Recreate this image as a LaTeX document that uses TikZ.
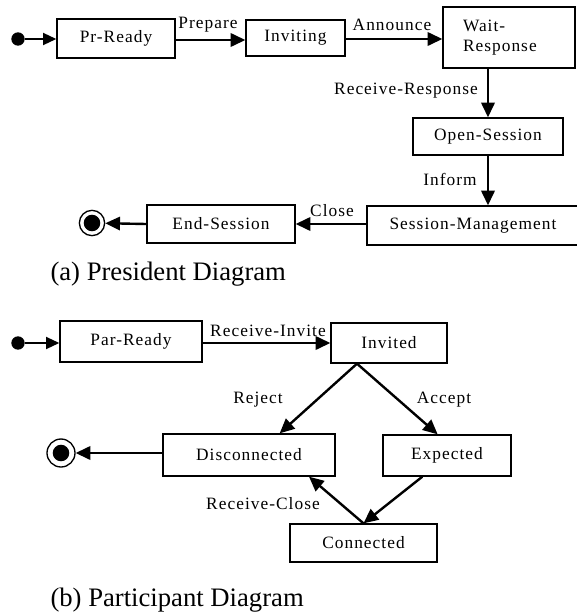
\documentclass[tikz,border=0pt]{standalone}
\usepackage{fontspec}
\setmainfont{Liberation Serif}
\newfontfamily\lblfont[LetterSpace=6]{Liberation Serif}
\usepackage{tikz}
\usetikzlibrary{arrows.meta,positioning,calc}
\tikzset{every picture/.style={line width=0.75pt}}

\begin{document}
\begin{tikzpicture}[x=0.75pt, y=-0.75pt,
    stbox/.style={draw, line width=1pt, rectangle, inner sep=0pt, font=\lblfont\fontsize{13}{15}\selectfont},
    trans/.style={line width=1.8pt, -{Triangle[length=11pt,width=10pt]}},
    lbl/.style={inner sep=0pt, font=\lblfont\fontsize{13}{15}\selectfont},
    initdot/.style={circle, fill, inner sep=0pt, minimum size=10pt},
    finalst/.style={circle, draw, line width=1pt, inner sep=0pt,
        path picture={\fill (path picture bounding box.center) circle (6.2pt);}},
    caption/.style={anchor=west, inner sep=0pt, font=\fontsize{20}{24}\selectfont}]
    \useasboundingbox (0,0) rectangle (577,614);

    % (a) 主持人
    \node[initdot] (init1) at (18,39) {};
    \node[stbox, minimum width=88.5pt, minimum height=29.25pt] (prready) at (116,38.5) {Pr-Ready};
    \node[stbox, minimum width=74.25pt, minimum height=27pt] (inviting) at (295.5,38) {Inviting};
    \node[stbox, minimum width=99pt, minimum height=45.75pt, text width=69pt, align=left] (waitresp) at (509,37.5) {Wait-\\Response};
    \node[stbox, minimum width=112.5pt, minimum height=27.75pt] (opensess) at (488,136.5) {Open-Session};
    \node[stbox, minimum width=159pt, minimum height=29.25pt] (sessmgmt) at (473,225.5) {Session-Management};
    \node[stbox, minimum width=111pt, minimum height=28.5pt] (endsess) at (221,224) {End-Session};
    \node[finalst, minimum size=19pt] (final1) at (92,223) {};

    \draw[line width=1.4pt, -{Triangle[length=10pt,width=9pt]}] (init1) -- (prready.west |- init1);
    \draw[trans] (prready.east |- 0,40) -- (inviting.west |- 0,40);
    \draw[trans] (inviting.east |- 0,39) -- (waitresp.west |- 0,39);
    \draw[trans] (opensess.north |- waitresp.south) -- (opensess.north);
    \draw[trans] (opensess.south) -- (opensess.south |- sessmgmt.north);
    \draw[trans] (sessmgmt.west |- endsess) -- (endsess.east);
    \draw[trans] (endsess.west) -- (final1);

    \node[lbl] (lprepare) at (208,25) {Prepare};
    \node[lbl] (lannounce) at (392,25) {Announce};
    \node[lbl] (lrecvresp) at (406,91) {Receive-Response};
    \node[lbl] (linform) at (450,179) {Inform};
    \node[lbl] (lclose) at (332,211) {Close};

    \node[caption] (capa) at (50,274) {(a) President Diagram};

    % (b) 参与者
    \node[initdot] (init2) at (18,343) {};
    \node[stbox, minimum width=106.5pt, minimum height=30.75pt] (parready) at (131,341.5) {Par-Ready};
    \node[stbox, minimum width=87pt, minimum height=30pt] (invited) at (389,343) {Invited};
    \node[stbox, minimum width=129pt, minimum height=31.5pt] (disconn) at (249,455) {Disconnected};
    \node[stbox, minimum width=96pt, minimum height=30.75pt] (expected) at (447,455.5) {Expected};
    \node[stbox, minimum width=110.25pt, minimum height=28.5pt] (connected) at (363.5,543) {Connected};
    \node[finalst, minimum size=21pt] (final2) at (61,453) {};

    \draw[line width=1.4pt, -{Triangle[length=10pt,width=9pt]}] (init2) -- (parready.west |- init2);
    \draw[trans] (parready.east |- invited) -- (invited.west);
    \draw[trans] ([xshift=20pt]invited.south west) -- ([xshift=23pt]disconn.north);
    \draw[trans] ([xshift=20pt]invited.south west) -- ([xshift=-7pt]expected.north);
    \draw[trans] ([xshift=30pt]expected.south west) -- (connected.north);
    \draw[trans] (connected.north) -- ([xshift=-20pt]disconn.south east);
    \draw[trans] (disconn.west |- final2) -- (final2);

    \node[lbl] (lrecvinv) at (268,331) {Receive-Invite};
    \node[lbl] (lreject) at (258,400) {Reject};
    \node[lbl] (laccept) at (444,400) {Accept};
    \node[lbl] (lrecvclose) at (263,504) {Receive-Close};

    \node[caption] (capb) at (50,600) {(b) Participant Diagram};
\end{tikzpicture}
\end{document}
